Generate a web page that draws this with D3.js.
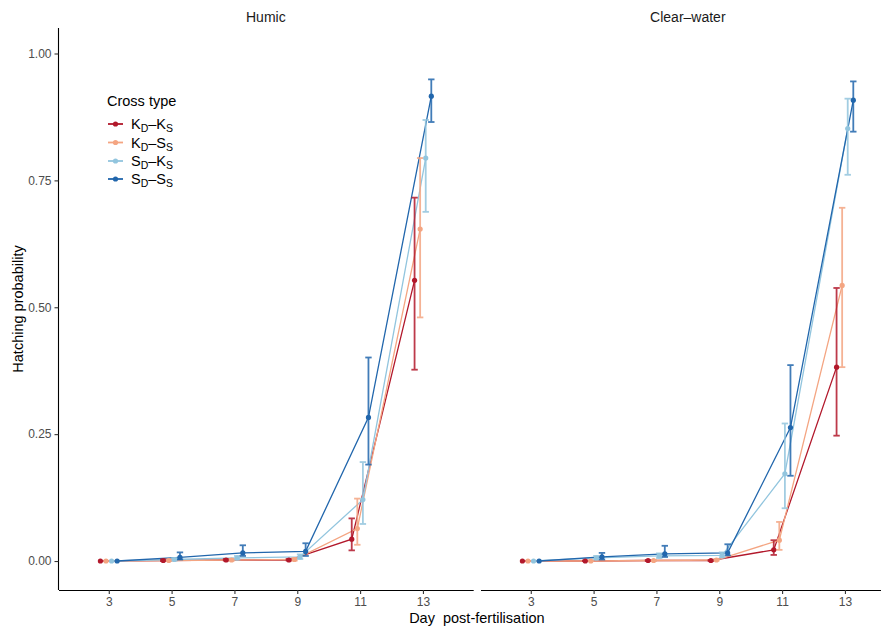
<!DOCTYPE html>
<html><head><meta charset="utf-8">
<script src="https://cdn.jsdelivr.net/npm/d3@7"></script>
<style>body{margin:0;background:#fff}svg{display:block}text{font-family:"Liberation Sans",Arial,sans-serif}.tick text{fill:#4d4d4d}</style>
</head><body>
<svg id="c" width="881" height="627"></svg>
<script>
const days = [3, 5, 7, 9, 11, 13];
const panels = ["Humic", "Clear\u2013water"];
const crossTypes = ["KK", "KS", "SK", "SS"];
const crossLabels = [["K","D","K","S"],["K","D","S","S"],["S","D","K","S"],["S","D","S","S"]];
const colors = ["#B2182B", "#F4A582", "#92C5DE", "#2166AC"];
const yTicks = [0, 0.25, 0.5, 0.75, 1.0];
const xTicks = [3, 5, 7, 9, 11, 13];

// Humic
const humicKK_mean = [0, 0.001, 0.002, 0.002, 0.043, 0.553];
const humicKK_lo   = [0, 0.000, 0.001, 0.001, 0.021, 0.377];
const humicKK_hi   = [0, 0.003, 0.004, 0.004, 0.084, 0.716];
const humicKS_mean = [0, 0.001, 0.002, 0.003, 0.064, 0.654];
const humicKS_lo   = [0, 0.000, 0.001, 0.001, 0.032, 0.480];
const humicKS_hi   = [0, 0.003, 0.004, 0.006, 0.123, 0.794];
const humicSK_mean = [0, 0.003, 0.006, 0.008, 0.121, 0.794];
const humicSK_lo   = [0, 0.001, 0.003, 0.004, 0.073, 0.688];
const humicSK_hi   = [0, 0.006, 0.010, 0.013, 0.195, 0.869];
const humicSS_mean = [0, 0.007, 0.016, 0.019, 0.283, 0.916];
const humicSS_lo   = [0, 0.003, 0.010, 0.010, 0.190, 0.865];
const humicSS_hi   = [0, 0.017, 0.031, 0.035, 0.401, 0.949];
// Clear-water
const clearKK_mean = [0, 0.000, 0.001, 0.001, 0.022, 0.382];
const clearKK_lo   = [0, 0.000, 0.000, 0.000, 0.012, 0.247];
const clearKK_hi   = [0, 0.001, 0.002, 0.002, 0.041, 0.538];
const clearKS_mean = [0, 0.000, 0.001, 0.002, 0.041, 0.543];
const clearKS_lo   = [0, 0.000, 0.000, 0.001, 0.022, 0.382];
const clearKS_hi   = [0, 0.001, 0.002, 0.004, 0.077, 0.696];
const clearSK_mean = [0, 0.006, 0.010, 0.011, 0.172, 0.852];
const clearSK_lo   = [0, 0.003, 0.006, 0.007, 0.104, 0.761];
const clearSK_hi   = [0, 0.010, 0.015, 0.017, 0.271, 0.911];
const clearSS_mean = [0, 0.008, 0.014, 0.016, 0.263, 0.908];
const clearSS_lo   = [0, 0.003, 0.008, 0.011, 0.168, 0.846];
const clearSS_hi   = [0, 0.016, 0.030, 0.033, 0.386, 0.945];

const panelData = [
  [[humicKK_mean,humicKK_lo,humicKK_hi],[humicKS_mean,humicKS_lo,humicKS_hi],[humicSK_mean,humicSK_lo,humicSK_hi],[humicSS_mean,humicSS_lo,humicSS_hi]],
  [[clearKK_mean,clearKK_lo,clearKK_hi],[clearKS_mean,clearKS_lo,clearKS_hi],[clearSK_mean,clearSK_lo,clearSK_hi],[clearSS_mean,clearSS_lo,clearSS_hi]]
];

const svg = d3.select("#c");
const panelW = 414.7, gap = 7.3, left0 = 58.5, topY = 28, bottomY = 590;
const y = d3.scaleLinear().domain([-0.0571, 1.0]).range([bottomY, 53.5]);
const dodge = 0.71;
const offsets = crossTypes.map((_, i) => (i - 1.5) * dodge / 4);

panels.forEach((pname, p) => {
  const x0 = left0 + p * (panelW + gap);
  const x = d3.scaleLinear().domain([1.4, 14.6]).range([x0, x0 + panelW]);
  const g = svg.append("g");

  // x axis
  const xa = g.append("g").attr("transform", `translate(0,${bottomY})`)
    .call(d3.axisBottom(x).tickValues(xTicks).tickSize(4).tickPadding(3).tickSizeOuter(0));
  xa.select(".domain").attr("stroke", "#000").attr("stroke-width", 1.1);
  xa.selectAll(".tick line").attr("stroke", "#333").attr("stroke-width", 1.1);
  xa.selectAll(".tick text").attr("fill", "#4d4d4d").style("font-size", "12px");

  if (p === 0) {
    const ya = g.append("g").attr("transform", `translate(${x0},0)`)
      .call(d3.axisLeft(y).tickValues(yTicks).tickFormat(d3.format(".2f")).tickSize(4).tickPadding(3).tickSizeOuter(0));
    ya.select(".domain").attr("stroke", "#000").attr("stroke-width", 1.1).attr("d", `M0,${topY}V${bottomY}`);
    ya.selectAll(".tick line").attr("stroke", "#333").attr("stroke-width", 1.1);
    ya.selectAll(".tick text").attr("fill", "#4d4d4d").style("font-size", "12px");
  }

  // strip label
  g.append("text").attr("x", (x.range()[0] + x.range()[1]) / 2).attr("y", 22)
    .attr("text-anchor", "middle").attr("fill", "#1a1a1a").style("font-size", "14px").text(pname);

  const series = panelData[p];
  // lines
  series.forEach((s, i) => {
    const pts = days.map((d, k) => [x(d + offsets[i]), y(s[0][k])]);
    g.append("path").attr("d", d3.line()(pts)).attr("fill", "none")
      .attr("stroke", colors[i]).attr("stroke-width", 1.3);
  });
  // error bars
  series.forEach((s, i) => {
    days.forEach((d, k) => {
      const cx = x(d + offsets[i]);
      const lo = y(s[1][k]), hi = y(s[2][k]);
      if (Math.abs(lo - hi) < 0.01) return;
      const eg = g.append("g").attr("stroke", colors[i]).attr("stroke-width", 1.8).attr("opacity", 0.85);
      eg.append("line").attr("x1", cx).attr("x2", cx).attr("y1", lo).attr("y2", hi);
      eg.append("line").attr("x1", cx - 3.2).attr("x2", cx + 3.2).attr("y1", lo).attr("y2", lo);
      eg.append("line").attr("x1", cx - 3.2).attr("x2", cx + 3.2).attr("y1", hi).attr("y2", hi);
    });
  });
  // points
  series.forEach((s, i) => {
    days.forEach((d, k) => {
      g.append("circle").attr("cx", x(d + offsets[i])).attr("cy", y(s[0][k])).attr("r", 2.6)
        .attr("fill", colors[i]);
    });
  });
});

// axis titles
svg.append("text").attr("x", left0 + panelW + gap / 2).attr("y", 623).attr("text-anchor", "middle")
  .attr("fill", "#000").style("font-size", "14.5px").style("white-space", "pre").text("Day  post-fertilisation");
svg.append("text").attr("transform", `translate(23,${(topY + bottomY) / 2}) rotate(-90)`)
  .attr("text-anchor", "middle").attr("fill", "#000").style("font-size", "14.5px").text("Hatching probability");

// legend
const lg = svg.append("g");
lg.append("text").attr("x", 107).attr("y", 106).attr("fill", "#000").style("font-size", "14.5px").text("Cross type");
const rowY = [124, 142.5, 161, 179];
crossTypes.forEach((c, i) => {
  const yy = rowY[i];
  lg.append("line").attr("x1", 108).attr("x2", 123).attr("y1", yy).attr("y2", yy)
    .attr("stroke", colors[i]).attr("stroke-width", 1.8);
  lg.append("circle").attr("cx", 115.5).attr("cy", yy).attr("r", 2.6).attr("fill", colors[i]);
  const L = crossLabels[i];
  const t = lg.append("text").attr("x", 131).attr("y", yy + 5).attr("fill", "#000").style("font-size", "14.5px");
  t.append("tspan").text(L[0]);
  t.append("tspan").attr("dy", 3).style("font-size", "10.5px").text(L[1]);
  t.append("tspan").attr("dy", -3).text("\u2013" + L[2]);
  t.append("tspan").attr("dy", 3).style("font-size", "10.5px").text(L[3]);
});
</script>
</body></html>
